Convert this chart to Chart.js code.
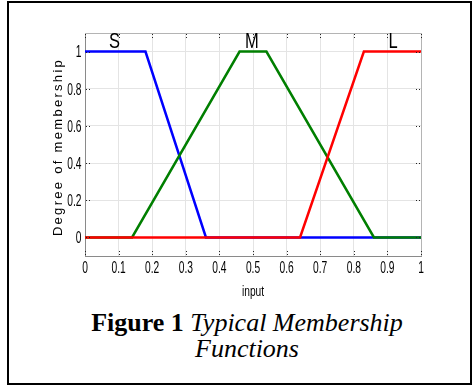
<!DOCTYPE html>
<html>
<head>
<meta charset="utf-8">
<script src="https://cdn.jsdelivr.net/npm/chart.js@4.4.0/dist/chart.umd.min.js"></script>
<style>
  body { margin: 0; background: #fff; overflow: hidden; }
  #frame {
    position: absolute; left: 7px; top: 1px; width: 461px; height: 380px;
    border: 2px solid #000;
  }
  #plot { position: absolute; left: 0; top: 0; }
  #caption {
    position: absolute; left: 10px; top: 310px; width: 474px;
    text-align: center; font-family: "Liberation Serif", "Times New Roman", serif;
    font-size: 26px; line-height: 26px; color: #000; white-space: nowrap;
  }
  #caption i { font-style: italic; }
</style>
</head>
<body>
<div id="frame"></div>
<canvas id="plot" width="476" height="305"></canvas>
<div id="caption"><b>Figure 1</b> <i>Typical Membership<br>Functions</i></div>
<script>
// membership function breakpoints
const sInput = [0, 0.18, 0.36, 1];
const sDegree = [1, 1, 0, 0];
const mInput = [0, 0.14, 0.46, 0.54, 0.86, 1];
const mDegree = [0, 0, 1, 1, 0, 0];
const lInput = [0, 0.64, 0.83, 1];
const lDegree = [0, 0, 1, 1];

const setNames = ['S', 'M', 'L'];
const xTicks = [0, 0.1, 0.2, 0.3, 0.4, 0.5, 0.6, 0.7, 0.8, 0.9, 1];
const yTicks = [0, 0.2, 0.4, 0.6, 0.8, 1];

const sans = '"Liberation Sans", Arial, sans-serif';

function toPoints(xs, ys) {
  return xs.map((x, i) => ({ x: x, y: ys[i] }));
}

// squeezed text, the figure uses a tall narrow face
function narrowText(ctx, text, x, y, size, sx, align) {
  ctx.save();
  ctx.translate(x, y);
  ctx.scale(sx, 1);
  ctx.font = size + 'px ' + sans;
  ctx.textAlign = align;
  ctx.textBaseline = 'middle';
  ctx.fillText(text, 0, 0);
  ctx.restore();
}

// box, inward ticks, tick labels, set names and axis titles
const decorations = {
  id: 'decorations',
  afterDraw(chart) {
    const ctx = chart.ctx;
    const a = chart.chartArea;
    const xs = chart.scales.x, ys = chart.scales.y;
    ctx.save();
    ctx.strokeStyle = '#b4b4b4';
    ctx.lineWidth = 1;
    ctx.beginPath();
    ctx.moveTo(a.left, a.top + 0.5);
    ctx.lineTo(a.right + 0.5, a.top + 0.5);
    ctx.lineTo(a.right + 0.5, a.bottom);
    ctx.stroke();

    ctx.strokeStyle = '#222';
    ctx.setLineDash([1, 2]);
    xTicks.forEach(v => {
      const px = Math.round(xs.getPixelForValue(v)) + 0.5;
      ctx.beginPath();
      ctx.moveTo(px, a.bottom - 1); ctx.lineTo(px, a.bottom - 6);
      ctx.moveTo(px, a.top + 1); ctx.lineTo(px, a.top + 7);
      ctx.stroke();
    });
    yTicks.forEach(v => {
      const py = Math.round(ys.getPixelForValue(v)) + 0.5;
      ctx.beginPath();
      ctx.moveTo(a.left + 1, py); ctx.lineTo(a.left + 5, py);
      ctx.moveTo(a.right - 1, py); ctx.lineTo(a.right - 5, py);
      ctx.stroke();
    });
    ctx.setLineDash([]);

    ctx.fillStyle = '#000';
    xs.ticks.forEach(t => {
      narrowText(ctx, String(t.value), xs.getPixelForValue(t.value), a.bottom + 12.5, 16, 0.64, 'center');
    });
    ys.ticks.forEach(t => {
      narrowText(ctx, String(t.value), a.left - 3.5, ys.getPixelForValue(t.value) + 1.5, 16, 0.64, 'right');
    });
    narrowText(ctx, 'input', (a.left + a.right) / 2, a.bottom + 36, 15, 0.68, 'center');

    const namePos = [0.088, 0.497, 0.917];
    setNames.forEach((n, i) => {
      narrowText(ctx, n, xs.getPixelForValue(namePos[i]), ys.getPixelForValue(1.052), 22, 0.75, 'center');
    });

    ctx.translate(58, 147);
    ctx.rotate(-Math.PI / 2);
    ctx.font = '13px ' + sans;
    ctx.letterSpacing = '2.3px';
    ctx.textAlign = 'center';
    ctx.textBaseline = 'middle';
    ctx.fillText('Degree of membership', 0, 0);
    ctx.restore();
  }
};

new Chart(document.getElementById('plot'), {
  type: 'line',
  data: {
    datasets: [
      { label: setNames[0], data: toPoints(sInput, sDegree), borderColor: '#0000ff', order: 3 },
      { label: setNames[1], data: toPoints(mInput, mDegree), borderColor: '#007f00', order: 2 },
      { label: setNames[2], data: toPoints(lInput, lDegree), borderColor: '#ff0000', order: 1 }
    ]
  },
  options: {
    responsive: false,
    animation: false,
    parsing: false,
    layout: { padding: { left: 0, top: 33, right: 55, bottom: 0 } },
    elements: {
      line: { borderWidth: 2.5, tension: 0 },
      point: { radius: 0 }
    },
    plugins: {
      legend: { display: false },
      tooltip: { enabled: false }
    },
    scales: {
      x: {
        type: 'linear',
        min: 0, max: 1,
        afterBuildTicks: s => { s.ticks = xTicks.map(v => ({ value: v })); },
        afterFit: s => { s.height = 49; },
        grid: { color: '#e4e4e4', drawTicks: false },
        border: { color: '#8a8a8a', width: 1 },
        ticks: { display: false }
      },
      y: {
        type: 'linear',
        min: -0.1, max: 1.1,
        afterBuildTicks: s => { s.ticks = yTicks.map(v => ({ value: v })); },
        afterFit: s => { s.width = 85; },
        grid: { color: '#e4e4e4', drawTicks: false },
        border: { color: '#8a8a8a', width: 1 },
        ticks: { display: false }
      }
    }
  },
  plugins: [decorations]
});
</script>
</body>
</html>
